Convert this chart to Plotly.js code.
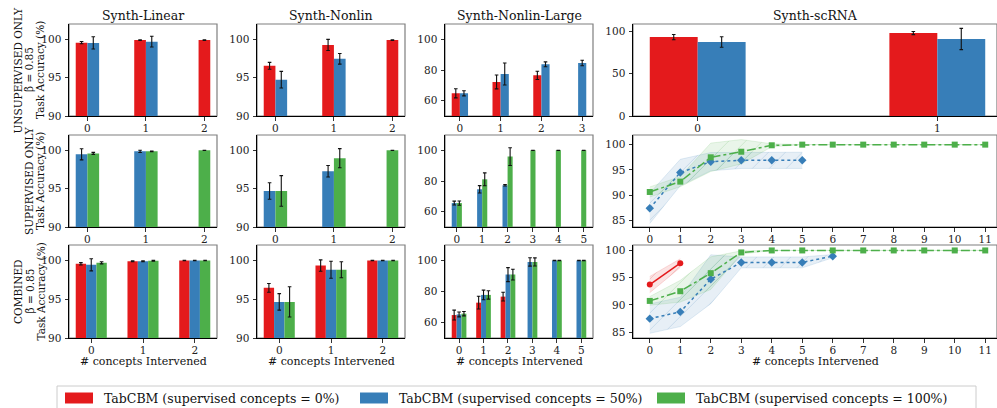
<!DOCTYPE html>
<html><head><meta charset="utf-8">
<script src="https://cdn.plot.ly/plotly-3.0.1.min.js"></script>
<style>html,body{margin:0;padding:0;background:#fff}#chart{width:997px;height:408px}</style>
</head><body><div id="chart"></div>
<script>
const W = 997, H = 408;
const FONT = '"DejaVu Serif", "Liberation Serif", serif';
const seriesNames = ['TabCBM (supervised concepts = 0%)', 'TabCBM (supervised concepts = 50%)', 'TabCBM (supervised concepts = 100%)'];
const colors = ['#e41a1c', '#377eb8', '#4daf4a'];
const colTitles = ['Synth-Linear', 'Synth-Nonlin', 'Synth-Nonlin-Large', 'Synth-scRNA'];
const xTitle = '# concepts Intervened';

// categories (# concepts intervened)
const cats3 = ['0', '1', '2'];
const cats4 = ['0', '1', '2', '3'];
const cats6 = ['0', '1', '2', '3', '4', '5'];
const catsRNA = ['0', '1'];
const stepsRNA = [0, 1, 2, 3, 4, 5, 6, 7, 8, 9, 10, 11];

// ---- Row 1: UNSUPERVISED ONLY ----
const u_lin_red = [99.57, 99.9, 99.9];      const u_lin_red_err = [0.15, 0.05, 0.03];
const u_lin_blue = [99.53, 99.7, null];     const u_lin_blue_err = [0.8, 0.7, null];
const u_non_red = [96.55, 99.27, 99.9];     const u_non_red_err = [0.45, 0.73, 0.04];
const u_non_blue = [94.74, 97.46, null];    const u_non_blue_err = [1.08, 0.7, null];
const u_lg_red = [64.8, 72.2, 76.5, null];  const u_lg_red_err = [3.0, 4.5, 2.7, null];
const u_lg_blue = [64.8, 77.4, 83.7, 84.6]; const u_lg_blue_err = [1.7, 7.2, 1.6, 1.8];
const u_rna_red = [93.0, 97.7];             const u_rna_red_err = [3.1, 1.8];
const u_rna_blue = [87.2, 90.7];            const u_rna_blue_err = [6.2, 12.5];

// ---- Row 2: SUPERVISED ONLY ----
const s_lin_blue = [99.48, 99.87, null];    const s_lin_blue_err = [0.73, 0.15, null];
const s_lin_green = [99.6, 99.87, 100];     const s_lin_green_err = [0.13, 0.05, 0.02];
const s_non_blue = [94.7, 97.28, null];     const s_non_blue_err = [1.08, 0.75, null];
const s_non_green = [94.7, 98.97, 100];     const s_non_green_err = [2.0, 1.25, 0.02];
const s_lg_blue = [65.6, 74.6, 77.2, null, null, null]; const s_lg_blue_err = [1.3, 2.4, 0.5, null, null, null];
const s_lg_green = [65.6, 81.1, 95.9, 100, 100, 100];   const s_lg_green_err = [1.4, 4.2, 5.8, 0.1, 0.1, 0.1];
const s_rna_blue = [87.43, 94.5, 96.64, 96.9, 96.9, 96.9];
const s_rna_blue_sd = [3.0, 2.6, 1.8, 1.6, 1.6, 1.6];
const s_rna_green = [90.66, 92.7, 97.5, 98.6, 99.87, 100, 100, 100, 100, 100, 100, 100];
const s_rna_green_sd = [1.0, 1.0, 2.8, 2.4, 0.3, 0, 0, 0, 0, 0, 0, 0];

// ---- Row 3: COMBINED ----
const c_lin_red = [99.57, 99.9, 100];       const c_lin_red_err = [0.15, 0.05, 0.02];
const c_lin_blue = [99.44, 99.9, 100];      const c_lin_blue_err = [0.78, 0.05, 0.02];
const c_lin_green = [99.7, 99.96, 100];     const c_lin_green_err = [0.13, 0.05, 0.02];
const c_non_red = [96.47, 99.35, 100];      const c_non_red_err = [0.56, 0.73, 0.02];
const c_non_blue = [94.66, 98.8, 100];      const c_non_blue_err = [1.06, 1.1, 0.02];
const c_non_green = [94.66, 98.8, 100];     const c_non_green_err = [1.96, 1.03, 0.02];
const c_lg_red = [64.8, 72.8, 76.7, null, null, null];  const c_lg_red_err = [3.2, 4.1, 2.8, null, null, null];
const c_lg_blue = [65.2, 77.8, 90.9, 99.1, 100, 100];   const c_lg_blue_err = [1.6, 3.1, 4.5, 2.7, 0.1, 0.1];
const c_lg_green = [65.7, 77.8, 90.9, 99.1, 100, 100];  const c_lg_green_err = [1.4, 2.7, 3.5, 2.6, 0.1, 0.1];
const c_rna_red = [93.73, 97.66];           const c_rna_red_sd = [1.5, 0.8];
const c_rna_blue = [87.46, 88.7, 94.7, 97.8, 97.8, 97.8, 98.95];
const c_rna_blue_sd = [2.7, 2.7, 4.5, 1.0, 1.0, 1.0, 0.3];
const c_rna_green = [90.72, 92.5, 95.82, 99.63, 100, 100, 100, 100, 100, 100, 100, 100];
const c_rna_green_sd = [0.8, 2.0, 3.0, 0.3, 0, 0, 0, 0, 0, 0, 0, 0];

// ---------------- layout geometry (pixels) ----------------
const colX = [[69, 217], [257, 405], [445, 593], [633, 997]];
const rowY = [[24, 116], [135, 227], [245, 338]];
const px = x => x / W, py = y => 1 - y / H;

const traces = [];
const layout = {
  width: W, height: H, margin: {l: 0, r: 0, t: 0, b: 0},
  paper_bgcolor: '#fff', plot_bgcolor: '#fff', showlegend: false,
  font: {family: FONT, size: 10, color: '#222'},
  shapes: [], annotations: [], barmode: 'overlay'
};

function axName(i) { return i === 1 ? '' : String(i); }

function setAxes(idx, row, col, xr, xtickvals, xticktext, yr, ytickvals) {
  const n = axName(idx);
  const common = {showgrid: false, zeroline: false, showline: true, linecolor: '#000', linewidth: 1,
    ticks: 'outside', ticklen: 3.5, tickwidth: 0.8, tickcolor: '#000',
    tickfont: {family: FONT, size: 10.5, color: '#222'}, fixedrange: true};
  layout['xaxis' + n] = Object.assign({}, common, {domain: [px(colX[col][0]), px(colX[col][1])],
    anchor: 'y' + n, range: xr, tickmode: 'array', tickvals: xtickvals, ticktext: xticktext, ticklabelstandoff: -1});
  layout['yaxis' + n] = Object.assign({}, common, {domain: [py(rowY[row][1]), py(rowY[row][0])],
    anchor: 'x' + n, range: yr, tickmode: 'array', tickvals: ytickvals, ticktext: ytickvals.map(String), ticklabelstandoff: 1});
  layout.shapes.push({type: 'rect', xref: 'x' + n + ' domain', yref: 'y' + n + ' domain', x0: 0, x1: 1, y0: 0, y1: 1,
    line: {color: '#7f7f7f', width: 1.2}, layer: 'below'});
}

function barPanel(idx, row, col, cats, vals, errs, yr, ytickvals, clipFrac) {
  const w = 0.2, n = cats.length, pos = vals.map(() => []);
  let lo = Infinity, hi = -Infinity;
  for (let i = 0; i < n; i++) {
    const present = [];
    vals.forEach((v, s) => { if (v && v[i] != null) present.push(s); });
    present.forEach((s, k) => { pos[s][i] = i + (k - (present.length - 1) / 2) * w; });
  }
  vals.forEach((v, s) => {
    if (!v) return;
    const X = [], Y = [], E = [];
    for (let i = 0; i < n; i++) if (v[i] != null) {
      X.push(pos[s][i]); Y.push(v[i]); E.push(errs[s][i]);
      lo = Math.min(lo, pos[s][i] - w / 2); hi = Math.max(hi, pos[s][i] + w / 2);
    }
    traces.push({type: 'bar', x: X, y: Y, width: w, name: seriesNames[s],
      marker: {color: colors[s], line: {width: 0}},
      error_y: {type: 'data', array: E, visible: true, color: '#111', thickness: 1.1, width: 1.8},
      xaxis: 'x' + axName(idx), yaxis: 'y' + axName(idx), hoverinfo: 'skip', showlegend: false});
  });
  const pad = (hi - lo) * 0.05;
  let xr = [lo - pad, hi + pad];
  if (clipFrac) xr = [xr[0], xr[0] + (xr[1] - xr[0]) * clipFrac];
  setAxes(idx, row, col, xr, cats.map((c, i) => i), cats, yr, ytickvals);
}

function hexA(hex, a) {
  const r = parseInt(hex.slice(1, 3), 16), g = parseInt(hex.slice(3, 5), 16), b = parseInt(hex.slice(5, 7), 16);
  return `rgba(${r},${g},${b},${a})`;
}

const lineStyle = [{dash: 'solid', symbol: 'circle'}, {dash: 'dot', symbol: 'diamond'}, {dash: 'dashdot', symbol: 'square'}];

function linePanel(idx, row, col, series, yr, ytickvals) {
  const n = axName(idx);
  series.forEach(([s, vals, sd]) => {
    const xs = vals.map((v, i) => stepsRNA[i]);
    const up = vals.map((v, i) => v + sd[i]), dn = vals.map((v, i) => v - sd[i]);
    traces.push({type: 'scatter', mode: 'lines', x: xs, y: up, line: {color: hexA(colors[s], 0.18), width: 0.8},
      xaxis: 'x' + n, yaxis: 'y' + n, hoverinfo: 'skip', showlegend: false});
    traces.push({type: 'scatter', mode: 'lines', x: xs, y: dn, line: {color: hexA(colors[s], 0.18), width: 0.8},
      fill: 'tonexty', fillcolor: hexA(colors[s], 0.12),
      fillpattern: {shape: '/', fgcolor: colors[s], fgopacity: 0.18, bgcolor: hexA(colors[s], 0.12), size: 12, solidity: 0.08},
      xaxis: 'x' + n, yaxis: 'y' + n, hoverinfo: 'skip', showlegend: false});
  });
  series.forEach(([s, vals]) => {
    traces.push({type: 'scatter', mode: 'lines+markers', x: vals.map((v, i) => stepsRNA[i]), y: vals, name: seriesNames[s],
      line: {color: colors[s], width: 1.5, dash: lineStyle[s].dash},
      marker: {color: colors[s], symbol: lineStyle[s].symbol, size: s === 1 ? 6.5 : 6},
      xaxis: 'x' + n, yaxis: 'y' + n, hoverinfo: 'skip', showlegend: false});
  });
  const r = [-0.55, 11.55];
  const xr = [r[0], r[0] + (r[1] - r[0]) * 364 / 369];
  setAxes(idx, row, col, xr, stepsRNA, stepsRNA.map(String), yr, ytickvals);
}

const CLIP = 364 / 369;
// Row 1
barPanel(1, 0, 0, cats3, [u_lin_red, u_lin_blue, null], [u_lin_red_err, u_lin_blue_err, null], [90, 102], [90, 95, 100]);
barPanel(2, 0, 1, cats3, [u_non_red, u_non_blue, null], [u_non_red_err, u_non_blue_err, null], [90, 102], [90, 95, 100]);
barPanel(3, 0, 2, cats4, [u_lg_red, u_lg_blue, null], [u_lg_red_err, u_lg_blue_err, null], [50, 110], [60, 80, 100]);
barPanel(4, 0, 3, catsRNA, [u_rna_red, u_rna_blue, null], [u_rna_red_err, u_rna_blue_err, null], [0, 108.4], [0, 50, 100], CLIP);
// Row 2
barPanel(5, 1, 0, cats3, [null, s_lin_blue, s_lin_green], [null, s_lin_blue_err, s_lin_green_err], [90, 102], [90, 95, 100]);
barPanel(6, 1, 1, cats3, [null, s_non_blue, s_non_green], [null, s_non_blue_err, s_non_green_err], [90, 102], [90, 95, 100]);
barPanel(7, 1, 2, cats6, [null, s_lg_blue, s_lg_green], [null, s_lg_blue_err, s_lg_green_err], [50, 110], [60, 80, 100]);
linePanel(8, 1, 3, [[1, s_rna_blue, s_rna_blue_sd], [2, s_rna_green, s_rna_green_sd]], [83.75, 101.9], [85, 90, 95, 100]);
// Row 3
barPanel(9, 2, 0, cats3, [c_lin_red, c_lin_blue, c_lin_green], [c_lin_red_err, c_lin_blue_err, c_lin_green_err], [90, 102], [90, 95, 100]);
barPanel(10, 2, 1, cats3, [c_non_red, c_non_blue, c_non_green], [c_non_red_err, c_non_blue_err, c_non_green_err], [90, 102], [90, 95, 100]);
barPanel(11, 2, 2, cats6, [c_lg_red, c_lg_blue, c_lg_green], [c_lg_red_err, c_lg_blue_err, c_lg_green_err], [50, 110], [60, 80, 100]);
linePanel(12, 2, 3, [[0, c_rna_red, c_rna_red_sd], [1, c_rna_blue, c_rna_blue_sd], [2, c_rna_green, c_rna_green_sd]], [83.9, 101.0], [85, 90, 95, 100]);

// column titles
const titleCenters = [143, 331, 519, 815];
colTitles.forEach((t, i) => layout.annotations.push({text: t, xref: 'paper', yref: 'paper', x: px(titleCenters[i]), y: py(16),
  xanchor: 'center', yanchor: 'middle', showarrow: false, font: {family: FONT, size: 12.5, color: '#111'}}));
// x titles
const xTitleCenters = [143, 331, 519, 815];
xTitleCenters.forEach(c => layout.annotations.push({text: xTitle, xref: 'paper', yref: 'paper', x: px(c), y: py(361),
  xanchor: 'center', yanchor: 'middle', showarrow: false, font: {family: FONT, size: 11, color: '#111'}}));
// row labels
const rowLabels = [['UNSUPERVISED ONLY', 'β = 0.85', 'Task Accuracy (%)'], ['SUPERVISED ONLY', 'Task Accuracy (%)'], ['COMBINED', 'β = 0.85', 'Task Accuracy (%)']];
rowLabels.forEach((lines, r) => {
  const cy = (rowY[r][0] + rowY[r][1]) / 2;
  const xs = lines.length === 3 ? [17.5, 29, 40] : [29, 40];
  lines.forEach((t, k) => layout.annotations.push({text: t, xref: 'paper', yref: 'paper', x: px(xs[k]), y: py(cy),
    xanchor: 'center', yanchor: 'middle', textangle: -90, showarrow: false, font: {family: FONT, size: 10.5, color: '#111'}}));
});

// legend (manual, matplotlib style)
layout.shapes.push({type: 'rect', xref: 'paper', yref: 'paper', x0: px(57), x1: px(976), y0: py(409), y1: py(386),
  line: {color: '#cccccc', width: 1}, fillcolor: 'rgba(255,255,255,0.8)', layer: 'above'});
const legX = [65, 360, 657];
seriesNames.forEach((nm, s) => {
  layout.shapes.push({type: 'rect', xref: 'paper', yref: 'paper', x0: px(legX[s]), x1: px(legX[s] + 28), y0: py(403.5), y1: py(392.5),
    line: {width: 0}, fillcolor: colors[s], layer: 'above'});
  layout.annotations.push({text: nm, xref: 'paper', yref: 'paper', x: px(legX[s] + 37), y: py(398), xanchor: 'left', yanchor: 'middle',
    showarrow: false, font: {family: FONT, size: 12.5, color: '#111'}});
});

Plotly.newPlot('chart', traces, layout, {staticPlot: true, displayModeBar: false});
</script>
</body></html>
